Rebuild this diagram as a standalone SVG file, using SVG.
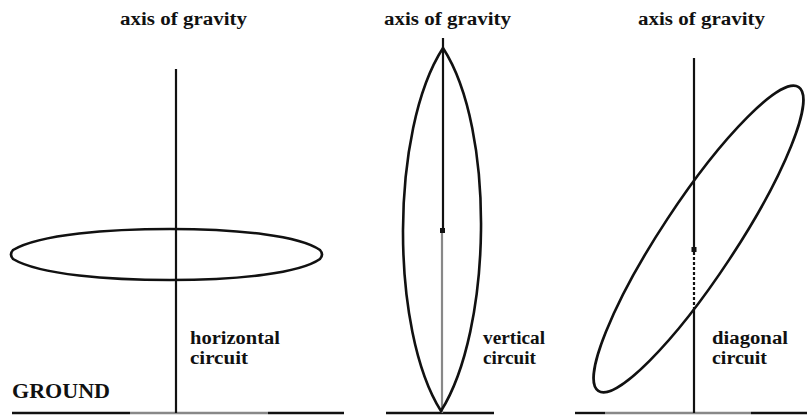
<svg xmlns="http://www.w3.org/2000/svg" width="807" height="416" viewBox="0 0 807 416">
<style>
.t{font-family:'Liberation Serif','DejaVu Serif','Times New Roman',Times,serif;font-weight:700;fill:#111;}
.title{font-size:18px;}
.lbl{font-size:18px;}
.gr{font-size:20px;}
.curve{fill:none;stroke:#111;stroke-width:2.6;}
.axis{stroke:#111;stroke-width:2.2;fill:none;}
.ground{stroke:#111;stroke-width:2.4;}
.gray{stroke:#888;}
</style>
<rect width="807" height="416" fill="#fff"/>
<g id="ground">
<line class="ground" x1="12" y1="413" x2="130" y2="413"/>
<line class="ground gray" x1="130" y1="413" x2="268" y2="413"/>
<line class="ground" x1="268" y1="413" x2="344" y2="413"/>
<line class="ground" x1="386" y1="413" x2="494" y2="413"/>
<line class="ground" x1="575" y1="413" x2="605" y2="413"/>
<line class="ground gray" x1="605" y1="413" x2="751" y2="413"/>
<line class="ground" x1="751" y1="413" x2="807" y2="413"/>
<text class="t gr" x="12" y="398" textLength="98" lengthAdjust="spacingAndGlyphs">GROUND</text>
</g>
<g id="connectors">
<line class="axis" x1="176" y1="69" x2="176" y2="413"/>
<line class="axis" x1="443" y1="38" x2="443" y2="230"/>
<line class="axis gray" x1="442" y1="230" x2="442" y2="413"/>
<rect x="440" y="228" width="5" height="5" fill="#111"/>
<line class="axis" x1="694" y1="58" x2="694" y2="250"/>
<rect x="691.5" y="247" width="5" height="5" fill="#111"/>
<line class="axis" x1="694" y1="252" x2="694" y2="310" stroke-dasharray="3,2"/>
<line class="axis" x1="694" y1="310" x2="694" y2="413"/>
</g>
<g id="horizontal">
<text class="t title" x="120" y="25" textLength="127" lengthAdjust="spacingAndGlyphs">axis of gravity</text>
<path class="curve" d="M13,250 C40,234 110,229 170,229 C240,229 300,236 320,250 Q324,254.5 320,259 C300,273 240,280 170,280 C110,280 40,275 13,259 Q9,254.5 13,250 Z"/>
<text class="t lbl" x="190" y="344" textLength="90" lengthAdjust="spacingAndGlyphs">horizontal</text>
<text class="t lbl" x="190" y="364" textLength="58" lengthAdjust="spacingAndGlyphs">circuit</text>
</g>
<g id="vertical">
<text class="t title" x="384" y="25" textLength="127" lengthAdjust="spacingAndGlyphs">axis of gravity</text>
<path class="curve" d="M443,48 C390,130 390,330 441,411 C492,330 496,130 443,48 Z"/>
<text class="t lbl" x="483" y="344" textLength="62" lengthAdjust="spacingAndGlyphs">vertical</text>
<text class="t lbl" x="483" y="364" textLength="53" lengthAdjust="spacingAndGlyphs">circuit</text>
</g>
<g id="diagonal">
<text class="t title" x="638" y="25" textLength="127" lengthAdjust="spacingAndGlyphs">axis of gravity</text>
<ellipse class="curve" cx="698.5" cy="239" rx="182" ry="37" transform="rotate(-56.6 698.5 239)"/>
<text class="t lbl" x="712" y="344" textLength="76" lengthAdjust="spacingAndGlyphs">diagonal</text>
<text class="t lbl" x="712" y="364" textLength="55" lengthAdjust="spacingAndGlyphs">circuit</text>
</g>
</svg>
